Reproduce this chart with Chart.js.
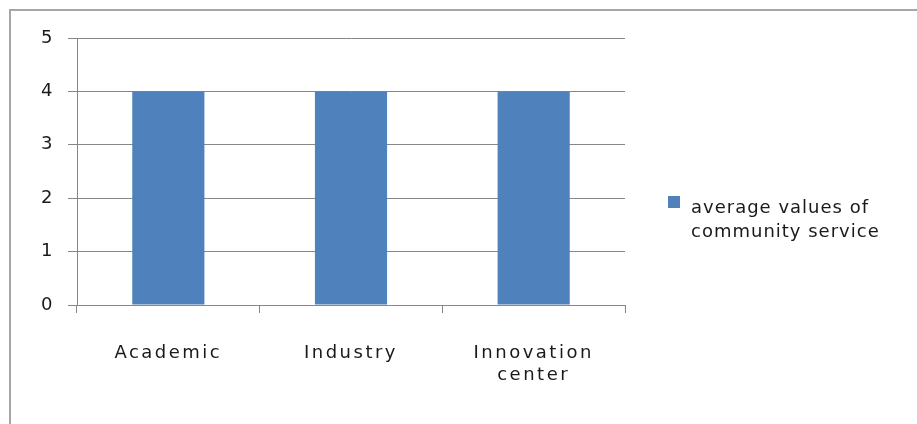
<!DOCTYPE html>
<html>
<head>
<meta charset="utf-8">
<script src="https://cdn.jsdelivr.net/npm/chart.js@4.4.0/dist/chart.umd.min.js"></script>
<style>
  body { margin: 0; background: #fff; overflow: hidden; }
  #wrap { position: relative; width: 917px; height: 424px; overflow: hidden; }
  #frame { position: absolute; left: 9px; top: 9px; width: 990px; height: 500px;
           border-top: 2px solid #a6a6a6; border-left: 2px solid #a6a6a6; }
  canvas { position: absolute; left: 0; top: 0; }
</style>
</head>
<body>
<div id="wrap">
  <div id="frame"></div>
  <canvas id="myChart" width="917" height="424"></canvas>
</div>
<script>
// chart data
const categories = ['Academic', 'Industry', ['Innovation', 'center']];
const seriesLabel = 'average values of community service';
const seriesValues = [4, 4, 4];
const yTicks = [0, 1, 2, 3, 4, 5];

const barColor = '#4f81bd';
const gridColor = '#878787';
const fontFamily = '"DejaVu Sans", sans-serif';

// excel-ish text looks spaced out, canvas letterSpacing gets close
const spacingPlugin = {
  id: 'spacing',
  beforeDraw(chart) {
    chart.ctx.letterSpacing = '2.5px';
  }
};

// legend on the right, wrapped to two lines
const sideLegend = {
  id: 'sideLegend',
  afterDraw(chart) {
    const ctx = chart.ctx;
    const ds = chart.data.datasets[0];
    ctx.save();
    ctx.letterSpacing = '1px';
    ctx.font = '18px ' + fontFamily;
    ctx.fillStyle = ds.backgroundColor;
    ctx.fillRect(668, 196, 12, 12);
    // simple word wrap
    const words = ds.label.split(' ');
    const lines = [];
    let line = '';
    words.forEach(function (w) {
      const test = line ? line + ' ' + w : w;
      if (ctx.measureText(test).width > 205 && line) {
        lines.push(line);
        line = w;
      } else {
        line = test;
      }
    });
    lines.push(line);
    ctx.fillStyle = '#1a1a1a';
    ctx.textBaseline = 'alphabetic';
    lines.forEach(function (l, i) {
      ctx.fillText(l, 691, 213 + i * 24);
    });
    ctx.restore();
  }
};

const ctx = document.getElementById('myChart').getContext('2d');
const myChart = new Chart(ctx, {
  type: 'bar',
  data: {
    labels: categories,
    datasets: [{
      label: seriesLabel,
      data: seriesValues,
      backgroundColor: barColor,
      borderWidth: 0,
      barPercentage: 0.395,
      categoryPercentage: 1
    }]
  },
  options: {
    responsive: false,
    animation: false,
    layout: { padding: { left: 0, right: 292, top: 38, bottom: 0 } },
    plugins: {
      legend: { display: false },
      tooltip: { enabled: false }
    },
    scales: {
      x: {
        afterFit(scale) { scale.height = 119; },
        grid: {
          display: true,
          drawOnChartArea: false,
          drawTicks: true,
          tickLength: 8,
          color: gridColor
        },
        border: { color: gridColor, width: 1 },
        ticks: {
          color: '#1a1a1a',
          font: { family: fontFamily, size: 18, lineHeight: 1.25 },
          padding: 29,
          maxRotation: 0
        }
      },
      y: {
        min: yTicks[0],
        max: yTicks[yTicks.length - 1],
        afterFit(scale) { scale.width = 77; },
        afterBuildTicks(scale) {
          scale.ticks = yTicks.map(function (v) { return { value: v }; });
        },
        grid: {
          color: gridColor,
          tickLength: 9,
          drawTicks: true
        },
        border: { color: gridColor, width: 1 },
        ticks: {
          color: '#1a1a1a',
          font: { family: fontFamily, size: 18 },
          padding: 13
        }
      }
    }
  },
  plugins: [spacingPlugin, sideLegend]
});
</script>
</body>
</html>
